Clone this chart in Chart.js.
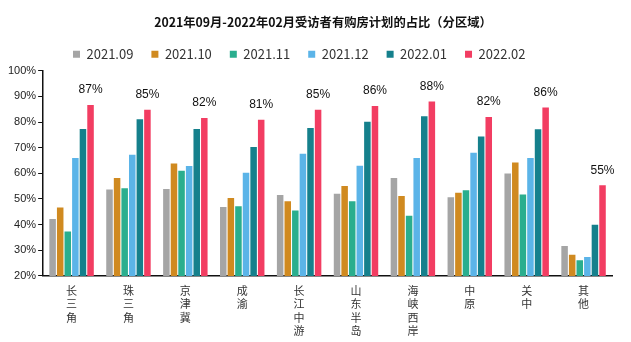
<!DOCTYPE html>
<html>
<head>
<meta charset="utf-8">
<script src="https://cdn.jsdelivr.net/npm/chart.js@4"></script>
<style>
  body { margin: 0; background: #fff; }
  #wrap { width: 631px; height: 342px; }
</style>
</head>
<body>
<div id="wrap"><canvas id="chart" width="631" height="342"></canvas></div>
<script>
// regions, one label per char so they stack vertically
const regions = [
    ["长", "三", "角"], ["珠", "三", "角"], ["京", "津", "冀"], ["成", "渝"],
    ["长", "江", "中", "游"], ["山", "东", "半", "岛"], ["海", "峡", "西", "岸"],
    ["中", "原"], ["关", "中"], ["其", "他"]
];
const months = ["2021.09", "2021.10", "2021.11", "2021.12", "2022.01", "2022.02"];

// share of respondents with purchase plans (%)
const m2109 = [42.2, 53.7, 53.9, 46.9, 51.5, 52.0, 58.2, 50.7, 59.9, 31.7];
const m2110 = [46.7, 58.2, 63.8, 50.4, 49.1, 55.1, 51.2, 52.4, 64.2, 28.2];
const m2111 = [37.3, 54.2, 61.0, 47.2, 45.5, 49.1, 43.5, 53.4, 51.7, 26.1];
const m2112 = [66.0, 67.2, 62.9, 60.2, 67.6, 63.0, 66.0, 68.0, 66.0, 27.4];
const m2201 = [77.3, 81.1, 77.3, 70.3, 77.7, 80.1, 82.3, 74.4, 77.2, 39.9];
const m2202 = [86.6, 84.8, 81.6, 80.9, 84.8, 86.3, 88.0, 82.0, 85.7, 55.3];

const yTicks = [20, 30, 40, 50, 60, 70, 80, 90, 100];

const colors = ["#a5a5a5", "#d08a20", "#2aae8e", "#5bb4e8", "#15808c", "#f23d62"];
const series = [m2109, m2110, m2111, m2112, m2201, m2202];

// value labels above the last series only
const topLabels = {
    id: "topLabels",
    afterDatasetsDraw(chart) {
        const ctx = chart.ctx;
        const meta = chart.getDatasetMeta(5);
        ctx.save();
        ctx.font = "12px 'Liberation Sans'";
        ctx.fillStyle = "#111";
        ctx.textAlign = "center";
        ctx.textBaseline = "bottom";
        meta.data.forEach((bar, i) => {
            ctx.fillText(Math.round(m2202[i]) + "%", bar.x, bar.y - 9);
        });
        ctx.restore();
    }
};

// the original has title and legend a bit off-centre
const nudge = {
    id: "nudge",
    afterLayout(chart) {
        chart.titleBlock.left += 14;
        chart.titleBlock.right += 14;
        chart.legend.left = 55;
    }
};

new Chart(document.getElementById("chart"), {
    type: "bar",
    data: {
        labels: regions,
        datasets: series.map((vals, i) => ({
            label: months[i],
            data: vals,
            backgroundColor: colors[i],
            categoryPercentage: 0.8,
            barPercentage: 0.86
        }))
    },
    options: {
        responsive: false,
        animation: false,
        layout: { padding: { left: 6, right: 19, top: 0, bottom: 4 } },
        plugins: {
            title: {
                display: true,
                text: "2021年09月-2022年02月受访者有购房计划的占比（分区域）",
                color: "#111",
                font: { family: "'Noto Sans CJK SC'", size: 12.3, weight: "bold" },
                padding: { top: 15, bottom: 0 }
            },
            legend: {
                position: "top",
                align: "start",
                labels: {
                    boxWidth: 7,
                    boxHeight: 7,
                    padding: 18,
                    color: "#333",
                    font: { family: "'Noto Sans CJK SC'", size: 13 }
                }
            },
            tooltip: { enabled: false }
        },
        scales: {
            x: {
                grid: { display: false },
                border: { display: true, color: "#111", width: 1.5 },
                ticks: {
                    color: "#333",
                    autoSkip: false,
                    maxRotation: 0,
                    padding: 0,
                    font: { family: "'Noto Sans CJK SC'", size: 11, lineHeight: 1.23 }
                }
            },
            y: {
                min: 20,
                max: 100,
                afterBuildTicks: (axis) => { axis.ticks = yTicks.map(v => ({ value: v })); },
                grid: { drawOnChartArea: false, drawTicks: true, tickLength: 5, color: "#111" },
                border: { display: true, color: "#111", width: 1.5 },
                ticks: {
                    color: "#222",
                    padding: 2,
                    font: { family: "'Liberation Sans'", size: 11 },
                    callback: (v) => v + "%"
                }
            }
        }
    },
    plugins: [topLabels, nudge]
});
</script>
</body>
</html>
